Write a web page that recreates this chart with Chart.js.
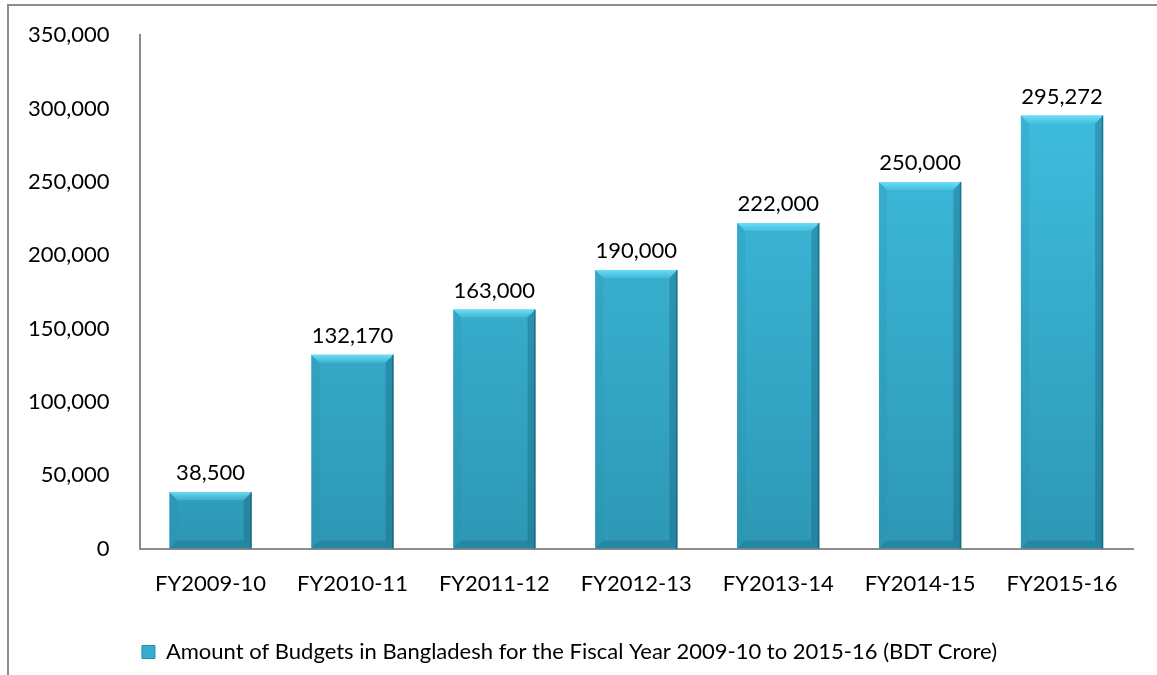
<!DOCTYPE html>
<html>
<head>
<meta charset="utf-8">
<script src="https://cdn.jsdelivr.net/npm/chart.js@4"></script>
<style>
  html, body { margin: 0; padding: 0; background: #fff; overflow: hidden; }
  #wrap { position: relative; width: 1157px; height: 675px; }
  #frame { position: absolute; left: 7px; top: 4px; width: 1200px; height: 720px; border: 2px solid #8c8c8c; }
</style>
</head>
<body>
<div id="wrap">
  <div id="frame"></div>
  <canvas id="budgetChart"></canvas>
</div>
<script>
var years = ["FY2009-10", "FY2010-11", "FY2011-12", "FY2012-13", "FY2013-14", "FY2014-15", "FY2015-16"];
var budgetAmounts = [38500, 132170, 163000, 190000, 222000, 250000, 295272];
var seriesName = "Amount of Budgets in Bangladesh for the Fiscal Year 2009-10 to 2015-16 (BDT Crore)";

var fontFam = "Lato, 'Open Sans', sans-serif";

// bar gradient, top lighter than bottom
function barFill(ctx) {
  var area = ctx.chart.chartArea;
  if (!area) return '#38b2d4';
  var g = ctx.chart.ctx.createLinearGradient(0, area.top, 0, area.bottom);
  g.addColorStop(0, '#41c2e4');
  g.addColorStop(1, '#2d98b5');
  return g;
}

// draws the bevelled edges and the numbers above each bar
var bevelPlugin = {
  id: 'bevel',
  afterDatasetsDraw: function (chart) {
    var c = chart.ctx;
    var meta = chart.getDatasetMeta(0);
    c.save();
    meta.data.forEach(function (bar, i) {
      var l = bar.x - bar.width / 2, r = bar.x + bar.width / 2;
      var t = bar.y, bt = bar.base;
      var b = Math.min(8, (bt - t) / 2);
      // top
      var tg = c.createLinearGradient(0, t, 0, t + b);
      tg.addColorStop(0, 'rgba(120,232,252,0.85)');
      tg.addColorStop(1, 'rgba(90,210,240,0.35)');
      c.fillStyle = tg;
      c.beginPath(); c.moveTo(l, t); c.lineTo(r, t); c.lineTo(r - b, t + b); c.lineTo(l + b, t + b); c.closePath(); c.fill();
      // left
      c.fillStyle = 'rgba(40,140,170,0.2)';
      c.beginPath(); c.moveTo(l, t); c.lineTo(l + b, t + b); c.lineTo(l + b, bt - b); c.lineTo(l, bt); c.closePath(); c.fill();
      // right
      c.fillStyle = 'rgba(20,95,120,0.35)';
      c.beginPath(); c.moveTo(r, t); c.lineTo(r - b, t + b); c.lineTo(r - b, bt - b); c.lineTo(r, bt); c.closePath(); c.fill();
      // bottom
      c.fillStyle = 'rgba(20,95,120,0.3)';
      c.beginPath(); c.moveTo(l, bt); c.lineTo(l + b, bt - b); c.lineTo(r - b, bt - b); c.lineTo(r, bt); c.closePath(); c.fill();
      // thin dark right edge
      c.fillStyle = 'rgba(20,80,100,0.5)';
      c.fillRect(r - 1.5, t, 1.5, bt - t);
      // value label
      c.fillStyle = '#000';
      c.font = "22px " + fontFam;
      c.textAlign = 'center';
      c.textBaseline = 'bottom';
      c.fillText(budgetAmounts[i].toLocaleString('en-US'), bar.x, t - 8);
    });
    c.restore();
  }
};

var budgetChart = new Chart(document.getElementById('budgetChart').getContext('2d'), {
  type: 'bar',
  data: {
    labels: years,
    datasets: [{
      label: seriesName,
      data: budgetAmounts,
      backgroundColor: barFill,
      borderWidth: 0,
      categoryPercentage: 1.0,
      barPercentage: 0.58
    }]
  },
  options: {
    responsive: true,
    maintainAspectRatio: false,
    animation: false,
    layout: { padding: { left: 6, right: 24, top: 21, bottom: 2 } },
    scales: {
      y: {
        min: 0,
        max: 350000,
        ticks: {
          stepSize: 50000,
          color: '#000',
          padding: 22,
          font: { family: fontFam, size: 22 },
          callback: function (v) { return v.toLocaleString('en-US'); }
        },
        grid: { display: false },
        border: { color: '#8c8c8c', width: 2 }
      },
      x: {
        ticks: {
          color: '#000',
          padding: 14,
          font: { family: fontFam, size: 22 }
        },
        grid: { display: false },
        border: { color: '#8c8c8c', width: 2 }
      }
    },
    plugins: {
      tooltip: { enabled: false },
      legend: {
        position: 'bottom',
        labels: {
          color: '#000',
          boxWidth: 13,
          boxHeight: 13,
          padding: 30,
          font: { family: fontFam, size: 22 },
          generateLabels: function (chart) {
            return [{
              text: seriesName,
              fillStyle: '#36aed0',
              strokeStyle: '#2a8aa6',
              lineWidth: 1,
              datasetIndex: 0
            }];
          }
        }
      }
    }
  },
  plugins: [bevelPlugin]
});
</script>
</body>
</html>
